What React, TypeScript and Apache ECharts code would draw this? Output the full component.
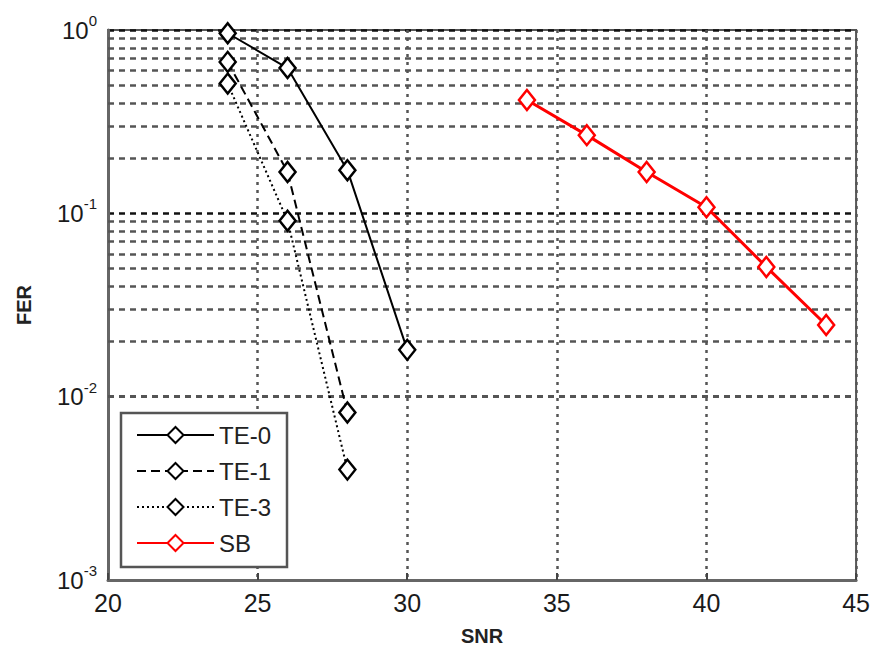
import React, { useEffect, useRef } from "react";
import * as echarts from "echarts";

const snrTE0 = [24, 26, 28, 30];
const ferTE0 = [0.96, 0.62, 0.172, 0.018];
const snrTE1 = [24, 26, 28];
const ferTE1 = [0.67, 0.168, 0.0082];
const snrTE3 = [24, 26, 28];
const ferTE3 = [0.51, 0.091, 0.004];
const snrSB = [34, 36, 38, 40, 42, 44];
const ferSB = [0.415, 0.267, 0.168, 0.108, 0.051, 0.0246];
const minorGrid = [
  0.002, 0.003, 0.004, 0.005, 0.006, 0.007, 0.008, 0.009,
  0.02, 0.03, 0.04, 0.05, 0.06, 0.07, 0.08, 0.09,
  0.2, 0.3, 0.4, 0.5, 0.6, 0.7, 0.8, 0.9,
];

const zip = (xs: number[], ys: number[]) => xs.map((x, i) => [x, ys[i]]);

export default function App() {
  const ref = useRef<HTMLDivElement>(null);
  useEffect(() => {
    const chart = echarts.init(ref.current!, undefined, { renderer: "svg" });
    const font = "Arial, 'Liberation Sans', sans-serif";
    const marker = (color: string) => ({
      symbol: "diamond",
      symbolSize: [16, 20],
      itemStyle: { color: "#fff", borderColor: color, borderWidth: 2.5 },
    });
    chart.setOption({
      animation: false,
      grid: {
        left: 108, right: 16, top: 30, bottom: 71,
        show: true, borderColor: "#555", borderWidth: 2,
      },
      xAxis: {
        type: "value", min: 20, max: 45, interval: 5,
        name: "SNR", nameLocation: "middle", nameGap: 46,
        nameTextStyle: { fontFamily: font, fontSize: 20, color: "#222", fontWeight: "bold" },
        axisLine: { lineStyle: { color: "#666", width: 3 } },
        axisTick: { show: true, inside: true, length: 7, lineStyle: { color: "#444", width: 2 } },
        axisLabel: { fontFamily: font, fontSize: 25, color: "#1a1a1a", margin: 10 },
        splitLine: { show: true, lineStyle: { color: "#555", type: [3, 5], width: 2.5 } },
      },
      yAxis: {
        type: "log", logBase: 10, min: 0.001, max: 1,
        name: "FER", nameLocation: "middle", nameGap: 74, nameRotate: 90,
        nameTextStyle: { fontFamily: font, fontSize: 20, color: "#222", fontWeight: "bold" },
        axisLine: { show: true, lineStyle: { color: "#666", width: 3 } },
        axisTick: { show: false },
        axisLabel: {
          margin: 11,
          fontFamily: font, fontSize: 24, color: "#1a1a1a",
          formatter: (v: number) => `{b|10}{s|${Math.round(Math.log10(v))}}`,
          rich: {
            b: { fontFamily: font, fontSize: 24, color: "#1a1a1a" },
            s: { fontFamily: font, fontSize: 15, color: "#1a1a1a", padding: [0, 0, 19, 0] },
          },
        },
        splitLine: { show: true, lineStyle: { color: "#111", type: [6, 5], width: 2.5 } },
      },
      legend: {
        orient: "vertical", left: 121, top: 413,
        backgroundColor: "#fff", borderColor: "#555", borderWidth: 2.5,
        padding: [10, 16, 12, 15], itemWidth: 77, itemHeight: 20, itemGap: 12, itemTextGap: 11,
        textStyle: { fontFamily: font, fontSize: 24, color: "#222" },
        data: ["TE-0", "TE-1", "TE-3", "SB"],
      },
      series: [
        {
          name: "TE-0", type: "line", data: zip(snrTE0, ferTE0), ...marker("#000"),
          lineStyle: { color: "#000", width: 2 }, z: 5,
          markLine: {
            silent: true, symbol: ["none", "none"], label: { show: false },
            lineStyle: { color: "#555", type: [6, 5], width: 2.5 },
            data: minorGrid.map((v) => ({ yAxis: v })),
            z: 1,
          },
        },
        {
          name: "TE-1", type: "line", data: zip(snrTE1, ferTE1), ...marker("#000"),
          lineStyle: { color: "#000", width: 2, type: [9, 5] }, z: 5,
        },
        {
          name: "TE-3", type: "line", data: zip(snrTE3, ferTE3), ...marker("#000"),
          lineStyle: { color: "#000", width: 2, type: [2, 3] }, z: 5,
        },
        {
          name: "SB", type: "line", data: zip(snrSB, ferSB), ...marker("#f00"),
          lineStyle: { color: "#f00", width: 3 }, z: 5,
        },
      ],
    });
    return () => chart.dispose();
  }, []);
  return <div ref={ref} style={{ width: 873, height: 651, position: "absolute", left: 0, top: 0 }} />;
}
